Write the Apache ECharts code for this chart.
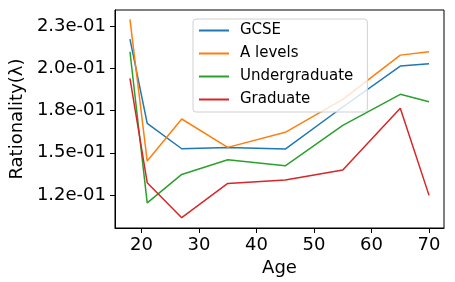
<!DOCTYPE html>
<html>
<head>
<meta charset="utf-8">
<script src="https://cdn.jsdelivr.net/npm/echarts@6/dist/echarts.min.js"></script>
<style>html,body{margin:0;padding:0;background:#fff}#c{width:455px;height:282px}</style>
</head>
<body>
<div id="c"></div>
<script>
const ages = [18, 21, 27, 35, 45, 55, 65, 70];
const gcse = [0.2173, 0.1674, 0.1524, 0.1532, 0.1522, 0.1771, 0.2013, 0.2027];
const aLevels = [0.2290, 0.1451, 0.1700, 0.1532, 0.1621, 0.1816, 0.2078, 0.2098];
const undergraduate = [0.2098, 0.1204, 0.1372, 0.1459, 0.1423, 0.1662, 0.1846, 0.1802];
const graduate = [0.1941, 0.1323, 0.1116, 0.1319, 0.1339, 0.1398, 0.1763, 0.1248];
const seriesNames = ['GCSE', 'A levels', 'Undergraduate', 'Graduate'];
const yTickValues = [0.125, 0.15, 0.175, 0.2, 0.225];
const yTickLabels = ['1.2e-01', '1.5e-01', '1.8e-01', '2.0e-01', '2.3e-01'];
const xTickValues = [20, 30, 40, 50, 60, 70];

const colors = ['#1f77b4', '#ff7f0e', '#2ca02c', '#d62728'];
const allData = [gcse, aLevels, undergraduate, graduate];
const font = 'DejaVu Sans';

const chart = echarts.init(document.getElementById('c'));
chart.setOption({
  animation: false,
  textStyle: { fontFamily: font },
  grid: { left: 110, top: 10, right: 11, bottom: 54, show: true, borderColor: '#000', borderWidth: 1, backgroundColor: 'transparent' },
  legend: {
    orient: 'vertical',
    left: 193, top: 19,
    padding: [4, 14, 5, 6],
    itemWidth: 30, itemHeight: 14, itemGap: 8,
    backgroundColor: 'rgba(255,255,255,0.8)',
    borderColor: '#d0d0d0', borderWidth: 1, borderRadius: 3,
    textStyle: { fontFamily: font, fontSize: 15, color: '#000', padding: [0, 0, 0, 6] },
    icon: 'path://M0,0 L30,0 L30,2 L0,2 Z',
    data: seriesNames
  },
  xAxis: {
    type: 'value', min: 15.4, max: 72.6,
    name: 'Age', nameLocation: 'middle', nameGap: 29,
    nameTextStyle: { fontFamily: font, fontSize: 18, color: '#000' },
    axisLine: { show: true, lineStyle: { color: '#000', width: 1 } },
    axisTick: { show: true, inside: false, length: 5, lineStyle: { color: '#000' }, customValues: xTickValues },
    axisLabel: { fontFamily: font, fontSize: 18, color: '#000', margin: 8, customValues: xTickValues },
    splitLine: { show: false }
  },
  yAxis: {
    type: 'value', min: 0.1055, max: 0.2345,
    name: 'Rationality(λ)', nameLocation: 'middle', nameGap: 82,
    nameTextStyle: { fontFamily: font, fontSize: 18, color: '#000' },
    axisLine: { show: true, lineStyle: { color: '#000', width: 1 } },
    axisTick: { show: true, inside: false, length: 5, lineStyle: { color: '#000' }, customValues: yTickValues },
    axisLabel: {
      fontFamily: font, fontSize: 18, color: '#000', margin: 9, customValues: yTickValues,
      formatter: function (v) {
        for (let i = 0; i < yTickValues.length; i++) {
          if (Math.abs(v - yTickValues[i]) < 1e-9) return yTickLabels[i];
        }
        return '';
      }
    },
    splitLine: { show: false }
  },
  series: seriesNames.map((n, i) => ({
    name: n, type: 'line', showSymbol: false, symbol: 'none',
    color: colors[i],
    lineStyle: { width: 1.5, color: colors[i] },
    data: ages.map((a, j) => [a, allData[i][j]])
  }))
});
</script>
</body>
</html>
